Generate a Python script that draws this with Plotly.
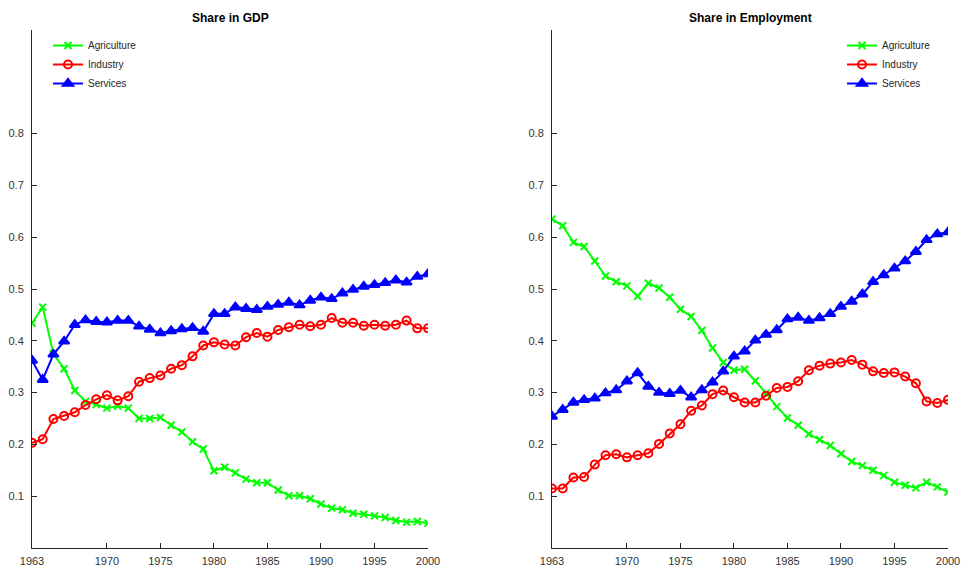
import plotly.graph_objects as go

years = list(range(1963, 2001))

gdp_agri = [0.434, 0.465, 0.375, 0.346, 0.304, 0.283, 0.277, 0.270, 0.274, 0.270,
            0.250, 0.250, 0.252, 0.237, 0.224, 0.205, 0.191, 0.149, 0.156, 0.145,
            0.133, 0.126, 0.126, 0.112, 0.101, 0.101, 0.095, 0.085, 0.077, 0.074,
            0.067, 0.065, 0.062, 0.059, 0.053, 0.050, 0.051, 0.048]
gdp_ind = [0.203, 0.210, 0.249, 0.255, 0.262, 0.276, 0.287, 0.295, 0.285, 0.293,
           0.321, 0.328, 0.333, 0.346, 0.353, 0.370, 0.391, 0.397, 0.393, 0.391,
           0.407, 0.415, 0.408, 0.421, 0.426, 0.431, 0.428, 0.431, 0.444, 0.435,
           0.435, 0.429, 0.431, 0.429, 0.431, 0.439, 0.424, 0.424]
gdp_serv = [0.362, 0.325, 0.374, 0.399, 0.431, 0.440, 0.437, 0.436, 0.439, 0.439,
            0.428, 0.422, 0.415, 0.419, 0.423, 0.425, 0.418, 0.452, 0.452, 0.465,
            0.462, 0.460, 0.466, 0.470, 0.474, 0.469, 0.478, 0.484, 0.481, 0.492,
            0.499, 0.505, 0.508, 0.512, 0.517, 0.513, 0.524, 0.529]

emp_agri = [0.635, 0.622, 0.590, 0.582, 0.554, 0.525, 0.514, 0.506, 0.486, 0.511,
            0.502, 0.484, 0.461, 0.447, 0.420, 0.386, 0.358, 0.343, 0.345, 0.323,
            0.299, 0.273, 0.251, 0.237, 0.220, 0.209, 0.198, 0.182, 0.167, 0.159,
            0.150, 0.140, 0.127, 0.121, 0.116, 0.127, 0.118, 0.108]
emp_ind = [0.115, 0.115, 0.136, 0.137, 0.161, 0.179, 0.181, 0.175, 0.179, 0.183,
           0.201, 0.221, 0.239, 0.265, 0.275, 0.297, 0.304, 0.291, 0.281, 0.281,
           0.294, 0.309, 0.311, 0.322, 0.343, 0.352, 0.356, 0.358, 0.363, 0.354,
           0.341, 0.338, 0.339, 0.331, 0.318, 0.283, 0.280, 0.286]
emp_serv = [0.254, 0.267, 0.281, 0.286, 0.289, 0.299, 0.305, 0.322, 0.338, 0.312,
            0.300, 0.298, 0.304, 0.291, 0.305, 0.320, 0.341, 0.370, 0.380, 0.401,
            0.412, 0.421, 0.442, 0.445, 0.439, 0.444, 0.452, 0.466, 0.476, 0.490,
            0.514, 0.527, 0.540, 0.554, 0.572, 0.595, 0.606, 0.610]

series_names = ["Agriculture", "Industry", "Services"]
x_ticks = [1963, 1970, 1975, 1980, 1985, 1990, 1995, 2000]
y_ticks = [0.1, 0.2, 0.3, 0.4, 0.5, 0.6, 0.7, 0.8]
titles = ["Share in GDP", "Share in Employment"]

styles = [
    dict(color="#00ff00", symbol="x-thin-open", size=7),
    dict(color="#ff0000", symbol="circle-open", size=8),
    dict(color="#0000ff", symbol="triangle-up", size=9),
]

fig = go.Figure()
panels = [(gdp_agri, gdp_ind, gdp_serv), (emp_agri, emp_ind, emp_serv)]
for p, data in enumerate(panels):
    xa = "x" if p == 0 else "x2"
    ya = "y" if p == 0 else "y2"
    lg = "legend" if p == 0 else "legend2"
    for name, vals, st in zip(series_names, data, styles):
        fig.add_trace(go.Scatter(
            x=years, y=vals, name=name, mode="lines+markers",
            xaxis=xa, yaxis=ya, legend=lg,
            line=dict(color=st["color"], width=2),
            marker=dict(symbol=st["symbol"], size=st["size"], color=st["color"],
                        line=dict(color=st["color"], width=2)),
        ))

W, H = 965, 569
ML, MR, MT, MB = 32, 17, 30, 21
PW = W - ML - MR
PH = H - MT - MB
d1 = [0, (428 - ML) / PW]
d2 = [(552 - ML) / PW, 1]
axis_common = dict(showgrid=False, zeroline=False, showline=True, linecolor="#262626",
                   linewidth=1, ticks="inside", ticklen=5, tickcolor="#262626",
                   automargin=False,
                   tickfont=dict(size=11, color="#333333"))
legend_common = dict(xanchor="left", yanchor="top", bgcolor="rgba(0,0,0,0)",
                     font=dict(size=10, color="#262626"), itemwidth=30, tracegroupgap=0)
fig.update_layout(
    width=W, height=H,
    margin=dict(l=ML, r=MR, t=MT, b=MB, autoexpand=False),
    paper_bgcolor="white", plot_bgcolor="white",
    font=dict(family="Liberation Sans, Arial, sans-serif", color="#262626"),
    xaxis=dict(domain=d1, range=[1963, 2000], tickvals=x_ticks, anchor="y",
               ticklabelstandoff=3, **axis_common),
    yaxis=dict(domain=[0, 1], range=[0, 1], tickvals=y_ticks,
               ticktext=[f"{v:.1f}" for v in y_ticks], anchor="x",
               ticklabelstandoff=5, **axis_common),
    xaxis2=dict(domain=d2, range=[1963, 2000], tickvals=x_ticks, anchor="y2",
                ticklabelstandoff=3, **axis_common),
    yaxis2=dict(domain=[0, 1], range=[0, 1], tickvals=y_ticks,
                ticktext=[f"{v:.1f}" for v in y_ticks], anchor="x2",
                ticklabelstandoff=5, **axis_common),
    legend=dict(x=(48 - ML) / PW, y=1 - 1 / PH, **legend_common),
    legend2=dict(x=(842 - ML) / PW, y=1 - 1 / PH, **legend_common),
    showlegend=True,
)
for i, t in enumerate(titles):
    cx = (d1[0] + d1[1]) / 2 if i == 0 else (d2[0] + d2[1]) / 2
    fig.add_annotation(text=f"<b>{t}</b>", x=cx, y=1 + 12 / PH,
                       xref="paper", yref="paper",
                       showarrow=False, font=dict(size=12, color="black"),
                       xanchor="center", yanchor="middle")

fig.write_html("out.html", config={"displayModeBar": False},
               post_script="document.body.style.margin='0';document.body.style.overflow='hidden';")
